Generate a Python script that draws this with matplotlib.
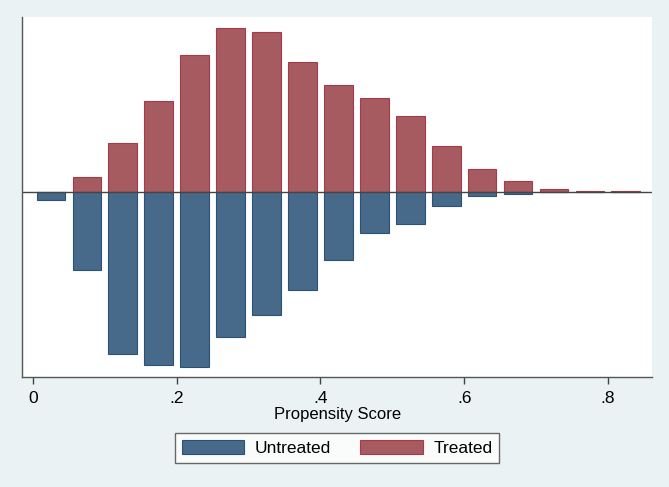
import numpy as np
import matplotlib
matplotlib.use("Agg")
import matplotlib.pyplot as plt

plt.rcParams["font.family"] = ["Liberation Sans", "DejaVu Sans"]

# bins of the propensity score (left edge of each bin, width .05)
bin_starts = [0.00, 0.05, 0.10, 0.15, 0.20, 0.25, 0.30, 0.35, 0.40,
              0.45, 0.50, 0.55, 0.60, 0.65, 0.70, 0.75, 0.80]
# heights (arbitrary density units)
treated = [0.8, 15.6, 49.6, 91.6, 137.3, 164.0, 160.6, 130.3, 107.3,
           94.6, 76.6, 46.3, 23.6, 11.6, 3.6, 1.2, 1.0]
untreated = [7.7, 77.7, 161.4, 172.4, 174.4, 144.7, 122.7, 97.7, 67.7,
             40.7, 31.4, 13.7, 3.4, 2.0, 0.0, 0.0, 0.0]
tick_vals = [0, 0.2, 0.4, 0.6, 0.8]
tick_labels = ["0", ".2", ".4", ".6", ".8"]

bg = "#eaf2f3"
blue, blue_edge = "#476a8b", "#2a5279"
red, red_edge = "#a55b60", "#a83a48"

fig = plt.figure(figsize=(6.69, 4.87), dpi=100, facecolor=bg)
ax = fig.add_axes([0.0336, 0.2259, 0.9405, 0.7391])
ax.set_facecolor("white")

bw = 0.05
centers = np.array(bin_starts) + bw / 2
ax.bar(centers, treated, width=bw * 0.8, color=red, edgecolor=red_edge,
       linewidth=0.8, label="Treated")
ax.bar(centers, -np.array(untreated), width=bw * 0.8, color=blue,
       edgecolor=blue_edge, linewidth=0.8, label="Untreated")
ax.axhline(0, color="#444444", linewidth=1.0)

ax.set_xlim(-0.0147, 0.861)
ax.set_ylim(-184.7, 175.3)
ax.set_yticks([])
ax.set_xticks(tick_vals)
ax.set_xticklabels(tick_labels, fontsize=12.5)
ax.tick_params(axis="x", direction="out", length=5, width=1, color="#444444", pad=5)
for s in ["top", "right"]:
    ax.spines[s].set_visible(False)
for s in ["left", "bottom"]:
    ax.spines[s].set_color("#555555")
    ax.spines[s].set_linewidth(1.0)
ax.set_xlabel("Propensity Score", fontsize=12, labelpad=1)

h, l = ax.get_legend_handles_labels()
leg = fig.legend(h[::-1], l[::-1], loc="center", bbox_to_anchor=(337 / 669, 1 - 448 / 487),
                 ncol=2, fontsize=12.5, frameon=True, fancybox=False,
                 handlelength=3.6, handleheight=0.9, handletextpad=0.6,
                 columnspacing=1.7, borderpad=0.4, borderaxespad=0)
leg.get_frame().set_edgecolor("#444444")
leg.get_frame().set_linewidth(1.0)

fig.savefig("out.png", dpi=100, facecolor=bg)
